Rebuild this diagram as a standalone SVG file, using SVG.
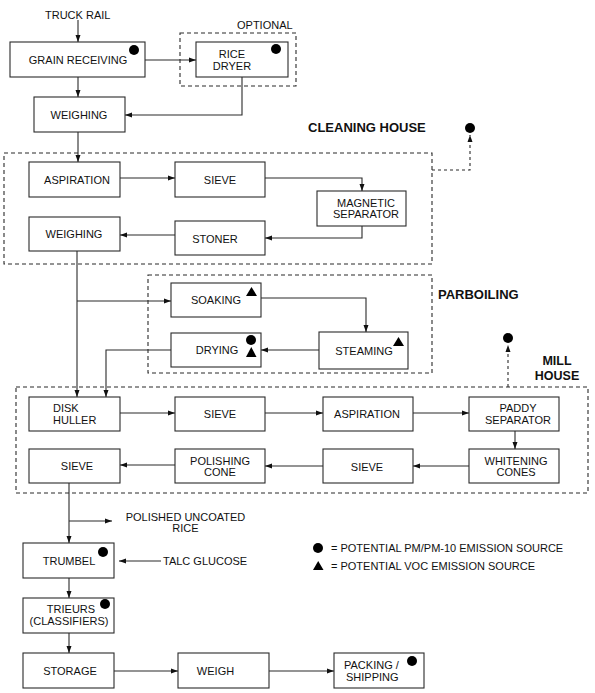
<svg xmlns="http://www.w3.org/2000/svg" width="595" height="693" viewBox="0 0 595 693">
<defs>
<style>
.b{fill:#fff;stroke:#2a2a2a;stroke-width:1.1}
.d{fill:none;stroke:#2a2a2a;stroke-width:1.1;stroke-dasharray:4,3}
.t{font-family:"Liberation Sans",Arial,sans-serif;font-size:11px;fill:#111}
.m{text-anchor:middle}
.h{font-family:"Liberation Sans",Arial,sans-serif;font-size:13px;font-weight:bold;fill:#111}
.h2{font-family:"Liberation Sans",Arial,sans-serif;font-size:12.5px;font-weight:bold;fill:#111}
.c{fill:none;stroke:#2a2a2a;stroke-width:1.1}
.cd{fill:none;stroke:#2a2a2a;stroke-width:1.1;stroke-dasharray:3,3}
.dot{fill:#000}
</style>
<marker id="a" markerUnits="userSpaceOnUse" markerWidth="8" markerHeight="6" refX="7" refY="3" orient="auto">
<path d="M0,0.5 L7,3 L0,5.5 z" fill="#111"/>
</marker>
</defs>
<rect width="595" height="693" fill="#fff"/>

<g id="groups">
<rect class="d" x="180" y="33" width="116" height="53"/>
<text class="t" x="237" y="29">OPTIONAL</text>
<rect class="d" x="4" y="153" width="428" height="111"/>
<text class="h" x="308" y="132">CLEANING HOUSE</text>
<rect class="d" x="148" y="275" width="284" height="98"/>
<text class="h" x="438" y="299">PARBOILING</text>
<rect class="d" x="16" y="387" width="572" height="106"/>
<text class="h2 m" x="557" y="365">MILL</text>
<text class="h2 m" x="557" y="380">HOUSE</text>
</g>

<g id="connectors">
<path class="c" d="M78,20 V42" marker-end="url(#a)"/>
<path class="c" d="M78,77 V97" marker-end="url(#a)"/>
<path class="c" d="M145,60 H196" marker-end="url(#a)"/>
<path class="c" d="M242,77 V115 H125" marker-end="url(#a)"/>
<path class="c" d="M78,132 V162" marker-end="url(#a)"/>
<path class="c" d="M120,178 H175" marker-end="url(#a)"/>
<path class="c" d="M265,178 H362 V191" marker-end="url(#a)"/>
<path class="c" d="M362,226 V238 H265" marker-end="url(#a)"/>
<path class="c" d="M175,235 H120" marker-end="url(#a)"/>
<path class="c" d="M77,251 V397" marker-end="url(#a)"/>
<path class="c" d="M77,301 H171" marker-end="url(#a)"/>
<path class="c" d="M261,298 H366 V332" marker-end="url(#a)"/>
<path class="c" d="M319,350 H261" marker-end="url(#a)"/>
<path class="c" d="M171,350 H106 V397" marker-end="url(#a)"/>
<path class="c" d="M120,413 H175" marker-end="url(#a)"/>
<path class="c" d="M265,413 H323" marker-end="url(#a)"/>
<path class="c" d="M413,413 H469" marker-end="url(#a)"/>
<path class="c" d="M515,431 V449" marker-end="url(#a)"/>
<path class="c" d="M469,466 H413" marker-end="url(#a)"/>
<path class="c" d="M323,466 H265" marker-end="url(#a)"/>
<path class="c" d="M175,465 H120" marker-end="url(#a)"/>
<path class="c" d="M69,483 V543" marker-end="url(#a)"/>
<path class="c" d="M69,521 H112" marker-end="url(#a)"/>
<path class="c" d="M161,561 H119" marker-end="url(#a)"/>
<path class="c" d="M69,578 V598" marker-end="url(#a)"/>
<path class="c" d="M69,633 V653" marker-end="url(#a)"/>
<path class="c" d="M114,671 H178" marker-end="url(#a)"/>
<path class="c" d="M269,671 H334" marker-end="url(#a)"/>
<path class="cd" d="M432,170 H470 V135" marker-end="url(#a)"/>
<path class="cd" d="M508,387 V345" marker-end="url(#a)"/>
</g>

<g id="labels">
<text class="t" x="45" y="19">TRUCK RAIL</text>
<text class="t m" x="185.5" y="521">POLISHED UNCOATED</text>
<text class="t m" x="185.5" y="532">RICE</text>
<text class="t" x="163" y="565">TALC GLUCOSE</text>
<circle class="dot" cx="470" cy="128" r="5"/>
<circle class="dot" cx="508" cy="338" r="5"/>
</g>

<g id="grain-receiving">
<rect class="b" x="10" y="42" width="135" height="35"/>
<text class="t m" x="78" y="64">GRAIN RECEIVING</text>
<circle class="dot" cx="134" cy="50" r="5"/>
</g>
<g id="rice-dryer">
<rect class="b" x="196" y="42" width="92" height="35"/>
<text class="t m" x="232" y="58">RICE</text>
<text class="t m" x="232" y="70">DRYER</text>
<circle class="dot" cx="276" cy="49" r="5"/>
</g>
<g id="weighing-1">
<rect class="b" x="34" y="97" width="91" height="35"/>
<text class="t m" x="79" y="119">WEIGHING</text>
</g>
<g id="aspiration-1">
<rect class="b" x="29" y="162" width="91" height="35"/>
<text class="t m" x="77" y="184">ASPIRATION</text>
</g>
<g id="sieve-1">
<rect class="b" x="175" y="162" width="90" height="35"/>
<text class="t m" x="220" y="184">SIEVE</text>
</g>
<g id="magnetic-separator">
<rect class="b" x="317" y="191" width="89" height="35"/>
<text class="t m" x="366" y="207">MAGNETIC</text>
<text class="t m" x="366" y="218">SEPARATOR</text>
</g>
<g id="weighing-2">
<rect class="b" x="29" y="217" width="91" height="34"/>
<text class="t m" x="74" y="238">WEIGHING</text>
</g>
<g id="stoner">
<rect class="b" x="175" y="221" width="90" height="34"/>
<text class="t m" x="215" y="243">STONER</text>
</g>
<g id="soaking">
<rect class="b" x="171" y="283" width="90" height="34"/>
<text class="t m" x="216" y="304">SOAKING</text>
<polygon class="dot" points="246,296 257,296 251.5,287"/>
</g>
<g id="drying">
<rect class="b" x="171" y="333" width="90" height="34"/>
<text class="t m" x="217" y="354">DRYING</text>
<circle class="dot" cx="251" cy="340" r="5"/>
<polygon class="dot" points="246,357 256.5,357 251.3,347"/>
</g>
<g id="steaming">
<rect class="b" x="319" y="332" width="89" height="37"/>
<text class="t m" x="364" y="355">STEAMING</text>
<polygon class="dot" points="393,346 404,346 398.5,337"/>
</g>
<g id="disk-huller">
<rect class="b" x="29" y="397" width="91" height="34"/>
<text class="t" x="53" y="412">DISK</text>
<text class="t" x="53" y="424">HULLER</text>
</g>
<g id="sieve-2">
<rect class="b" x="175" y="397" width="90" height="34"/>
<text class="t m" x="220" y="418">SIEVE</text>
</g>
<g id="aspiration-2">
<rect class="b" x="323" y="397" width="90" height="34"/>
<text class="t m" x="367" y="418">ASPIRATION</text>
</g>
<g id="paddy-separator">
<rect class="b" x="469" y="397" width="90" height="34"/>
<text class="t m" x="518" y="412">PADDY</text>
<text class="t m" x="518" y="424">SEPARATOR</text>
</g>
<g id="sieve-final">
<rect class="b" x="29" y="449" width="91" height="34"/>
<text class="t m" x="77" y="470">SIEVE</text>
</g>
<g id="polishing-cone">
<rect class="b" x="175" y="449" width="90" height="34"/>
<text class="t m" x="220" y="465">POLISHING</text>
<text class="t m" x="220" y="476">CONE</text>
</g>
<g id="sieve-3">
<rect class="b" x="323" y="449" width="90" height="34"/>
<text class="t m" x="367" y="471">SIEVE</text>
</g>
<g id="whitening-cones">
<rect class="b" x="469" y="449" width="90" height="34"/>
<text class="t m" x="516" y="465">WHITENING</text>
<text class="t m" x="516" y="476">CONES</text>
</g>
<g id="trumbel">
<rect class="b" x="23" y="543" width="91" height="35"/>
<text class="t m" x="69" y="565">TRUMBEL</text>
<circle class="dot" cx="103" cy="552" r="5"/>
</g>
<g id="trieurs">
<rect class="b" x="23" y="598" width="91" height="35"/>
<text class="t m" x="71" y="613">TRIEURS</text>
<text class="t m" x="69" y="625">(CLASSIFIERS)</text>
<circle class="dot" cx="105" cy="604" r="5"/>
</g>
<g id="storage">
<rect class="b" x="23" y="653" width="91" height="35"/>
<text class="t m" x="70" y="675">STORAGE</text>
</g>
<g id="weigh">
<rect class="b" x="178" y="653" width="91" height="35"/>
<text class="t m" x="215.5" y="675">WEIGH</text>
</g>
<g id="packing-shipping">
<rect class="b" x="334" y="653" width="90" height="35"/>
<text class="t" x="344" y="669">PACKING /</text>
<text class="t" x="346" y="681">SHIPPING</text>
<circle class="dot" cx="412" cy="661" r="5"/>
</g>

<g id="legend">
<circle class="dot" cx="318" cy="548" r="5"/>
<text class="t" x="331" y="552">= POTENTIAL PM/PM-10 EMISSION SOURCE</text>
<polygon class="dot" points="313,570 323.5,570 318.2,561"/>
<text class="t" x="331" y="570">= POTENTIAL VOC EMISSION SOURCE</text>
</g>
</svg>
